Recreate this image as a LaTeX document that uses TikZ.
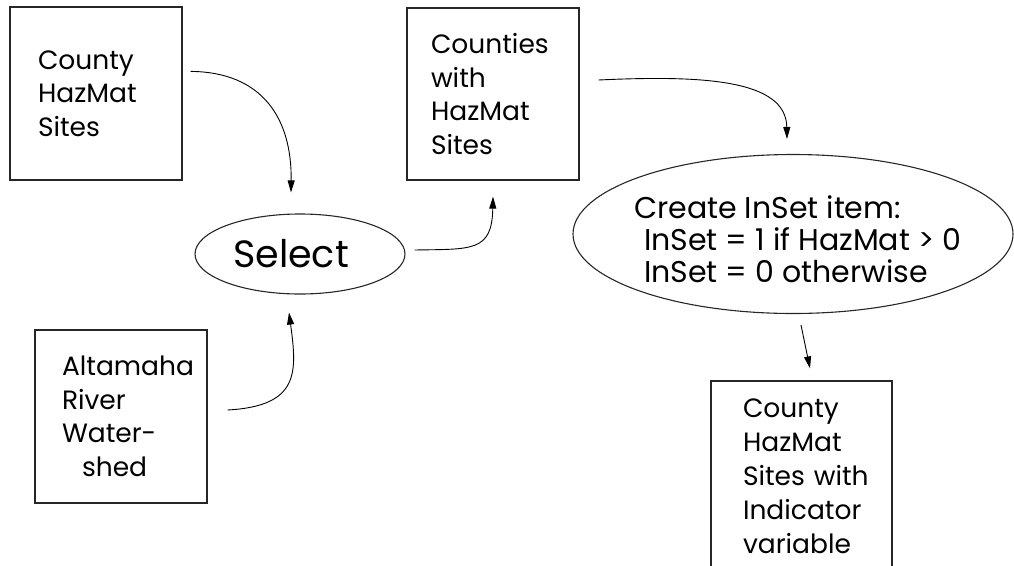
\documentclass[tikz,border=0pt]{standalone}
\usepackage{fontspec}
\setmainfont{Poppins}
\usetikzlibrary{shapes.geometric,arrows.meta,calc}
\hyphenpenalty=10000
\exhyphenpenalty=10000
\begin{document}
\begin{tikzpicture}[x=1pt,y=-1pt,
  box/.style={draw=black!85, line width=1.2pt, rectangle, inner sep=0pt, align=left,
              font=\fontsize{26.5}{33.5}\selectfont},
  oval/.style={draw=black!85, line width=1.1pt, ellipse, inner sep=0pt},
  ovaltext/.style={inner sep=0pt, align=left},
  link/.style={line width=0.9pt, -{Triangle[length=12pt,width=7pt]}}]
\useasboundingbox (0,0) rectangle (1014,565);
\clip (0,0) rectangle (1014,565);

% data sets
\node[box, text width=116pt, minimum width=172pt, minimum height=173pt]
  (b1) at (96,93.5) {County\\HazMat\\Sites};
\node[box, text width=124pt, minimum width=172pt, minimum height=172pt]
  (b2) at (493,94) {Counties\\with\\HazMat\\Sites};
\node[box, text width=118pt, minimum width=172pt, minimum height=173pt]
  (b3) at (121,416.5) {Altamaha\\River\\Water-\\\hspace*{20pt}shed};
\node[box, text width=117pt, minimum width=181pt, minimum height=190pt, font=\fontsize{26.5}{34}\selectfont]
  (b4) at (801.5,476) {County\\HazMat\\Sites~with\\Indicator\\variable};

% operations
\node[oval, minimum width=210pt, minimum height=80pt] (sel) at (300,254) {};
\node[ovaltext, anchor=base west, font=\fontsize{38}{42}\selectfont]
  (seltxt) at (233,267) {Select};
\node[oval, minimum width=440pt, minimum height=159pt] (inset) at (793,234) {};
\node[ovaltext, anchor=base west, font=\fontsize{30}{32}\selectfont]
  (insettxt) at (634,282) {Create InSet item:\\\hspace*{10pt}InSet = 1 if HazMat > 0\\\hspace*{10pt}InSet = 0 otherwise};

% flow
\draw[link] ($(b1.north east)+(8,65)$) .. controls (262,72) and (292,118) .. ($(sel.north)+(-9,-21)$);
\draw[link] ($(b3.east)+(20,-6.5)$) .. controls (300,406) and (297,372) .. ($(sel.south)+(-11,18)$);
\draw[link] ($(sel.east)+(9,-4)$) .. controls (472,249) and (492,252) .. ($(b2.south)+(0,16)$);
\draw[link] ($(b2.east)+(19,-14)$) .. controls (705,75) and (786,80) .. ($(inset.north)+(-6,-15)$);
\draw[link] ($(inset.south)+(8,11)$) -- ($(b4.north)+(8.5,-12)$);
\end{tikzpicture}
\end{document}
